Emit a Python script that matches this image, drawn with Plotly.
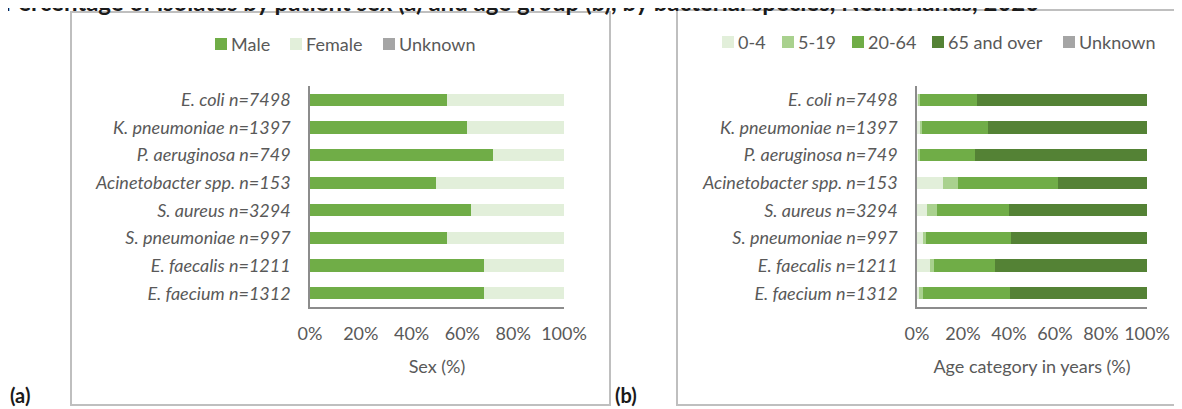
import plotly.graph_objects as go

species = [
    "E. coli n=7498", "K. pneumoniae n=1397", "P. aeruginosa n=749",
    "Acinetobacter spp. n=153", "S. aureus n=3294", "S. pneumoniae n=997",
    "E. faecalis n=1211", "E. faecium n=1312",
]

# (a) sex, % of isolates
male = [53.8, 61.8, 71.9, 49.6, 63.4, 53.8, 68.5, 68.5]
female = [46.2, 38.2, 28.1, 50.4, 36.6, 46.2, 31.5, 31.5]
sex_unknown = [0, 0, 0, 0, 0, 0, 0, 0]

# (b) age group, % of isolates
age_0_4 = [0.8, 1.2, 0.8, 11.3, 4.3, 2.8, 5.8, 1.0]
age_5_19 = [0.7, 1.0, 0.7, 6.5, 4.2, 1.2, 1.4, 1.5]
age_20_64 = [24.5, 28.8, 23.9, 43.3, 31.3, 36.8, 26.5, 37.8]
age_65 = [74.0, 69.0, 74.6, 38.9, 60.2, 59.2, 66.3, 59.7]
age_unknown = [0, 0, 0, 0, 0, 0, 0, 0]

pct_ticks = [0, 20, 40, 60, 80, 100]
pct_labels = ["0%", "20%", "40%", "60%", "80%", "100%"]

FONT = "Lato"
GREY_TXT = "#595959"
AXIS_COL = "#8c8c8c"

# the page body has an 8px margin, so the figure is a bit smaller than the window
OFF = 8
W, H = 1182 - OFF, 409 - OFF


def px(x):
    return (x - OFF) / W


def py(y):
    return 1 - (y - OFF) / H


sex_series = [
    ("Male", male, "#70AD47"),
    ("Female", female, "#E2EFDA"),
    ("Unknown", sex_unknown, "#A5A5A5"),
]
age_series = [
    ("0-4", age_0_4, "#E2EFDA"),
    ("5-19", age_5_19, "#A9D18E"),
    ("20-64", age_20_64, "#70AD47"),
    ("65 and over", age_65, "#548235"),
    ("Unknown", age_unknown, "#A5A5A5"),
]

fig = go.Figure()
for name, vals, col in sex_series:
    fig.add_trace(go.Bar(
        y=species, x=vals, name=name, orientation="h",
        marker=dict(color=col, line=dict(width=0)),
        xaxis="x", yaxis="y", showlegend=False,
        hovertemplate="%{y}<br>" + name + ": %{x:.1f}%<extra></extra>",
    ))
for name, vals, col in age_series:
    fig.add_trace(go.Bar(
        y=species, x=vals, name=name, orientation="h",
        marker=dict(color=col, line=dict(width=0)),
        xaxis="x2", yaxis="y2", showlegend=False,
        hovertemplate="%{y}<br>" + name + ": %{x:.1f}%<extra></extra>",
    ))

xax = dict(
    range=[0, 100], tickmode="array", tickvals=pct_ticks, ticktext=pct_labels,
    showgrid=False, zeroline=False, showline=True, linecolor=AXIS_COL, linewidth=1.5,
    tickfont=dict(family=FONT, size=18, color=GREY_TXT), ticks="",
    ticklabelstandoff=10, automargin=False,
    title=dict(font=dict(family=FONT, size=18, color=GREY_TXT), standoff=17),
)
yax = dict(
    autorange="reversed", showgrid=False, zeroline=False,
    showline=True, linecolor=AXIS_COL, linewidth=1.5, ticks="",
    ticklabelstandoff=14, automargin=False,
    tickfont=dict(family=FONT, size=18, color=GREY_TXT, style="italic"),
)

shapes = [
    dict(type="rect", xref="paper", yref="paper", x0=px(71), x1=px(610), y0=py(405), y1=py(12),
         line=dict(color="#BFBFBF", width=2), fillcolor="rgba(0,0,0,0)", layer="below"),
    dict(type="rect", xref="paper", yref="paper", x0=px(677), x1=px(1195), y0=py(405), y1=py(10),
         line=dict(color="#BFBFBF", width=2), fillcolor="rgba(0,0,0,0)", layer="below"),
]
annotations = []


# Excel style legends: small square with the text right next to it
def add_legend(series, xs, yc):
    for (name, _, col), x in zip(series, xs):
        shapes.append(dict(
            type="rect", xref="paper", yref="paper",
            x0=px(x), x1=px(x + 12), y0=py(yc + 6), y1=py(yc - 6),
            line=dict(width=0), fillcolor=col,
        ))
        annotations.append(dict(
            text=name, xref="paper", yref="paper", x=px(x + 14), y=py(yc),
            xanchor="left", yanchor="middle", showarrow=False,
            font=dict(family=FONT, size=18, color=GREY_TXT),
        ))


add_legend(sex_series, [215, 290, 383], 44)
add_legend(age_series, [722, 782, 852, 932, 1063], 42)

annotations += [
    dict(text="<b>Percentage of isolates by patient sex (a) and age group (b), by bacterial species, Netherlands, 2020</b>",
         xref="paper", yref="paper", x=px(2), y=1, xanchor="left", yanchor="bottom",
         yshift=-10, showarrow=False, font=dict(family=FONT, size=24, color="#1a1a1a")),
    dict(text="<b>(a)</b>", xref="paper", yref="paper", x=0, y=0.0, xanchor="left",
         yanchor="bottom", showarrow=False, font=dict(family=FONT, size=20, color="#1a1a1a")),
    dict(text="<b>(b)</b>", xref="paper", yref="paper", x=px(613), y=0.0, xanchor="left",
         yanchor="bottom", showarrow=False, font=dict(family=FONT, size=20, color="#1a1a1a")),
]

fig.update_layout(
    width=W, height=H,
    margin=dict(l=0, r=0, t=0, b=0, autoexpand=False),
    paper_bgcolor="white", plot_bgcolor="white",
    barmode="stack", bargap=0.56,
    xaxis=dict(xax, domain=[px(310), px(564)], anchor="y", title_text="Sex (%)"),
    yaxis=dict(yax, domain=[py(307), py(86)], anchor="x"),
    xaxis2=dict(xax, domain=[px(917), px(1147)], anchor="y2", title_text="Age category in years (%)"),
    yaxis2=dict(yax, domain=[py(307), py(86)], anchor="x2"),
    shapes=shapes,
    annotations=annotations,
)

fig.write_html("out.html")
